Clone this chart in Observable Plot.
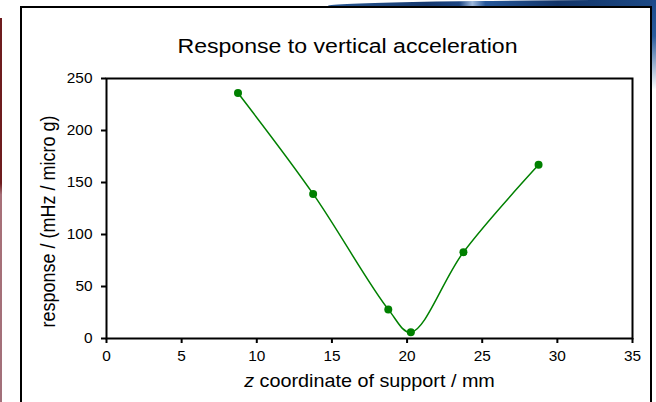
<!DOCTYPE html>
<html>
<head>
<meta charset="utf-8">
<script src="https://cdn.jsdelivr.net/npm/d3@7"></script>
<script src="https://cdn.jsdelivr.net/npm/@observablehq/plot@0.6"></script>
<style>
  html, body { margin: 0; padding: 0; background: #fff; }
  #slide { position: relative; width: 656px; height: 402px; overflow: hidden; background: #fff; }
  .swoosh { position: absolute; top: 0; left: 328px; width: 328px; height: 8px;
    border-top-left-radius: 100% 6px;
    background: linear-gradient(to right, #2b5a94 0%, #16396f 30%, #1c4582 40%, #9fb9dc 44%, #27589a 48%, #123468 70%, #1d4a86 100%); }
  .edge-right { position: absolute; top: 0; left: 652px; width: 4px; height: 90px;
    background: linear-gradient(to bottom, #1b4a8a 0%, #2a5c9c 40%, rgba(255,255,255,0) 100%); }
  .edge-left { position: absolute; top: 18px; left: 0; width: 2px; height: 384px;
    background: linear-gradient(to bottom, #6e1c1e 0%, #6e1c1e 43%, #a77078 46%, #a2707a 100%); }
  .panel { position: absolute; left: 20px; top: 6px; width: 628px; height: 420px;
    border: 2px solid #000; background: #fff; }
  #chart { position: absolute; left: 0; top: 0; }
</style>
</head>
<body>
<div id="slide">
  <div class="swoosh"></div>
  <div class="edge-right"></div>
  <div class="edge-left"></div>
  <div class="panel"></div>
  <div id="chart"></div>
</div>
<script>
// Support position along z (mm) and the measured response (mHz per micro g)
const zPositions = [8.75, 13.75, 18.75, 20.25, 23.75, 28.75];
const responses  = [236, 139, 28, 6, 83, 167];

const xTicks = [0, 5, 10, 15, 20, 25, 30, 35];
const yTicks = [0, 50, 100, 150, 200, 250];

const titleText = "Response to vertical acceleration";
const yLabel = "response / (mHz / micro g)";
const xLabelVar = "z";
const xLabelRest = " coordinate of support / mm";

const data = zPositions.map((z, i) => ({z, r: responses[i]}));

const green = "#008000";
const textStretch = 1.1; // slightly wide lettering used throughout the slide

const chart = Plot.plot({
  width: 656,
  height: 402,
  marginLeft: 106,
  marginRight: 24,
  marginTop: 78,
  marginBottom: 64,
  style: {
    fontFamily: "'Liberation Sans', Arial, sans-serif",
    fontSize: "14px",
    color: "#000",
    background: "transparent",
    overflow: "visible"
  },
  x: {domain: [0, 35]},
  y: {domain: [0, 250]},
  marks: [
    Plot.frame({stroke: "#000", strokeWidth: 2}),
    Plot.axisY({ticks: yTicks, tickSize: 5, tickPadding: 9, label: null, fontSize: 14, strokeWidth: 2}),
    Plot.axisX({ticks: xTicks, tickSize: 5, tickPadding: 8, label: null, fontSize: 14, strokeWidth: 2}),
    Plot.line(data, {x: "z", y: "r", curve: "catmull-rom", stroke: green, strokeWidth: 1.5}),
    Plot.dot(data, {x: "z", y: "r", r: 4, fill: green, stroke: "none"}),
    Plot.text([titleText], {frameAnchor: "top", dx: -22, dy: -40, fontSize: 21, fill: "#000"}),
    Plot.text([yLabel], {frameAnchor: "left", textAnchor: "middle", dx: -58, dy: 13, rotate: -90, fontSize: 18, fill: "#000"}),
    Plot.text([xLabelVar + xLabelRest], {frameAnchor: "bottom", dy: 48, fontSize: 18, fill: "#000"})
  ]
});

const svg = d3.select(chart);

// Set the variable name in the x-axis label in italics
svg.selectAll("text")
  .filter(function() { return this.textContent === xLabelVar + xLabelRest; })
  .each(function() {
    const t = d3.select(this);
    t.text(null);
    t.append("tspan").attr("font-style", "italic").text(xLabelVar);
    t.append("tspan").text(xLabelRest);
  });

// Widen the lettering horizontally (on screen) about each text's anchor point
svg.selectAll("text").each(function() {
  const t = d3.select(this);
  const tr = t.attr("transform") || "";
  const x = +t.attr("x") || 0;
  const y = +t.attr("y") || 0;
  const rotated = /rotate\(\s*-?90/.test(tr);
  const s = rotated ? `scale(1,${textStretch})` : `scale(${textStretch},1)`;
  t.attr("transform", `${tr} translate(${x},${y}) ${s} translate(${-x},${-y})`);
});

document.getElementById("chart").append(chart);
</script>
</body>
</html>
